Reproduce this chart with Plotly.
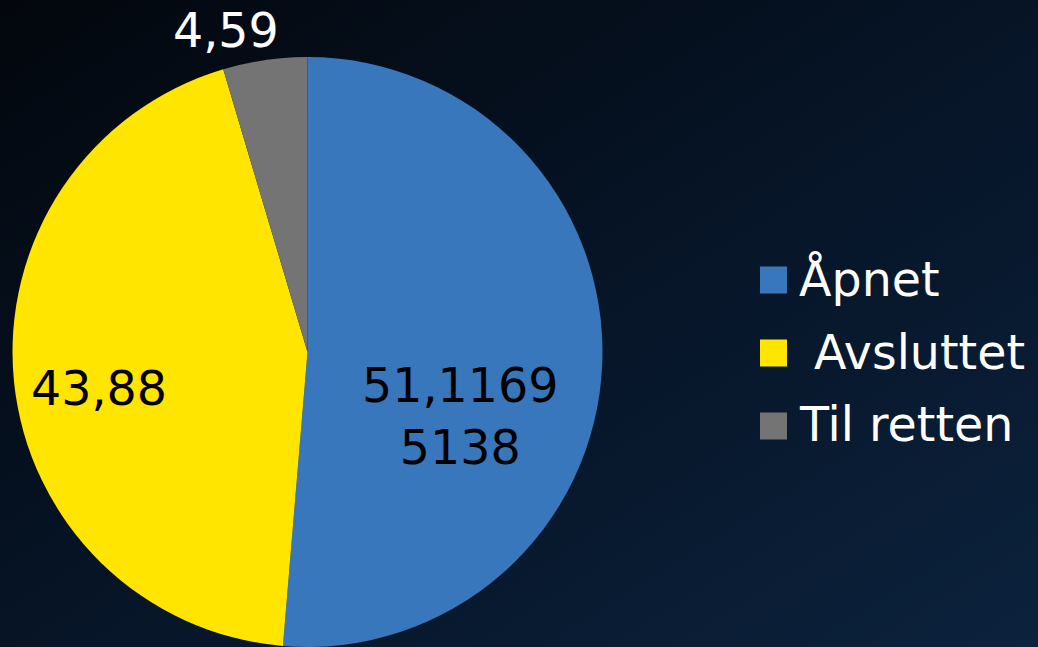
import base64
import plotly.graph_objects as go

# ---- data ----
categories = ["Åpnet", " Avsluttet", "Til retten"]
values = [51.11695138, 43.88, 4.59]
value_labels = ["51,1169<br>5138", "43,88", "4,59"]
colors = ["#3877BB", "#FFE500", "#747474"]
label_colors = ["#000000", "#000000", "#FFFFFF"]

W, H = 1038, 647
FONT = "DejaVu Sans, Verdana, sans-serif"
FS = 47.5

# background gradient (diagonal, dark navy)
svg = (
    '<svg xmlns="http://www.w3.org/2000/svg" width="1038" height="647" preserveAspectRatio="none">'
    '<defs><linearGradient id="g" x1="0" y1="0" x2="1" y2="1">'
    '<stop offset="0" stop-color="#03070d"/>'
    '<stop offset="0.5" stop-color="#061426"/>'
    '<stop offset="1" stop-color="#0c223d"/>'
    '</linearGradient></defs>'
    '<rect width="1038" height="647" fill="url(#g)"/></svg>'
)
bg_src = "data:image/svg+xml;base64," + base64.b64encode(svg.encode()).decode()

fig = go.Figure(
    go.Pie(
        labels=categories,
        values=values,
        textinfo="none",
        sort=False,
        direction="clockwise",
        rotation=0,
        marker=dict(colors=colors, line=dict(width=0)),
        showlegend=False,
        hoverinfo="label+value",
        domain=dict(x=[12 / W, 603 / W], y=[0, 1 - 57 / H]),
    )
)

# data label placement (pixel centres, as in the reference layout)
label_pos = [(460, 416), (99, 388), (226, 31)]
annotations = []
for txt, (px, py), tc in zip(value_labels, label_pos, label_colors):
    annotations.append(dict(
        text=txt, x=px / W, y=1 - py / H, xref="paper", yref="paper",
        showarrow=False, xanchor="center", yanchor="middle", align="center",
        font=dict(family=FONT, size=FS, color=tc),
    ))

shapes = []
for i, (cat, col) in enumerate(zip(categories, colors)):
    yc = 280 + i * 73
    shapes.append(dict(
        type="rect", xref="paper", yref="paper",
        x0=760 / W, x1=787 / W, y0=1 - (yc - 13.5) / H, y1=1 - (yc + 13.5) / H,
        fillcolor=col, line=dict(width=0),
    ))
    annotations.append(dict(
        text=cat.replace(" ", "&nbsp;"), x=797 / W, y=1 - (yc - 1) / H, xref="paper", yref="paper",
        showarrow=False, xanchor="left", yanchor="middle",
        font=dict(family=FONT, size=FS, color="#FFFFFF"),
    ))

fig.update_layout(
    width=W, height=H,
    margin=dict(l=0, r=0, t=0, b=0),
    paper_bgcolor="#061426",
    plot_bgcolor="rgba(0,0,0,0)",
    images=[dict(
        source=bg_src, xref="paper", yref="paper", x=0, y=1, sizex=1, sizey=1,
        xanchor="left", yanchor="top", sizing="stretch", layer="below",
    )],
    shapes=shapes,
    annotations=annotations,
)

fig.write_html("out.html")
